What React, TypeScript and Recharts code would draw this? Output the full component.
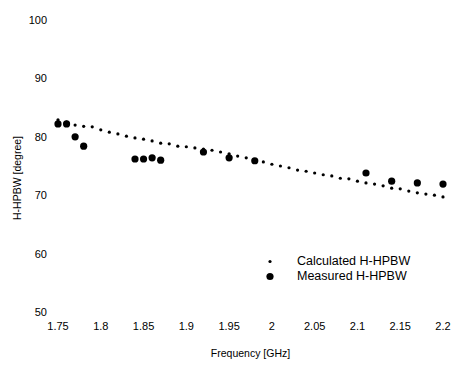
import React from "react";
import {ScatterChart, Scatter, XAxis, YAxis, Legend} from "recharts";

// calculated H-HPBW, one value every 0.01 GHz
const calcFreq = [
  1.75, 1.76, 1.77, 1.78, 1.79, 1.8, 1.81, 1.82, 1.83, 1.84, 1.85, 1.86, 1.87, 1.88, 1.89, 1.9,
  1.91, 1.92, 1.93, 1.94, 1.95, 1.96, 1.97, 1.98, 1.99, 2.0, 2.01, 2.02, 2.03, 2.04, 2.05, 2.06,
  2.07, 2.08, 2.09, 2.1, 2.11, 2.12, 2.13, 2.14, 2.15, 2.16, 2.17, 2.18, 2.19, 2.2,
];
const calcHpbw = [
  82.9, 82.5, 82.0, 81.8, 81.7, 81.2, 80.8, 80.5, 80.1, 79.8, 79.6, 79.3, 78.9, 78.8, 78.4, 78.3,
  78.1, 77.9, 77.7, 77.4, 77.1, 76.7, 76.4, 76.0, 75.7, 75.3, 75.0, 74.7, 74.3, 74.1, 73.8, 73.5,
  73.3, 72.9, 72.8, 72.4, 72.1, 71.9, 71.6, 71.2, 71.1, 70.7, 70.4, 70.2, 70.0, 69.7,
];

const measFreq = [1.75, 1.76, 1.77, 1.78, 1.84, 1.85, 1.86, 1.87, 1.92, 1.95, 1.98, 2.11, 2.14, 2.17, 2.2];
const measHpbw = [82.2, 82.2, 80.0, 78.4, 76.2, 76.2, 76.4, 76.0, 77.4, 76.4, 75.9, 73.8, 72.4, 72.1, 71.9];

const xTicks = [1.75, 1.8, 1.85, 1.9, 1.95, 2, 2.05, 2.1, 2.15, 2.2];
const yTicks = [50, 60, 70, 80, 90, 100];

const calcData = calcFreq.map((f, i) => ({f, v: calcHpbw[i]}));
const measData = measFreq.map((f, i) => ({f, v: measHpbw[i]}));

const font = "Arial, 'Liberation Sans', sans-serif";

const SmallDot = (p: any) => <circle cx={p.cx} cy={p.cy} r={1.6} fill="#000" />;
const BigDot = (p: any) => <circle cx={p.cx} cy={p.cy} r={3.6} fill="#000" />;

const LegendBox = () => (
  <div style={{fontFamily: font, fontSize: 12.5, color: "#000", lineHeight: "15px"}}>
    <div style={{display: "flex", alignItems: "center"}}>
      <svg width={14} height={15}><circle cx={7} cy={7.5} r={1.6} fill="#000" /></svg>
      <span style={{marginLeft: 20}}>Calculated H-HPBW</span>
    </div>
    <div style={{display: "flex", alignItems: "center"}}>
      <svg width={14} height={15}><circle cx={7} cy={7.5} r={3.6} fill="#000" /></svg>
      <span style={{marginLeft: 20}}>Measured H-HPBW</span>
    </div>
  </div>
);

export default function App() {
  return (
    <div style={{position: "fixed", left: 0, top: 0, background: "#fff"}}>
      <ScatterChart width={455} height={365} margin={{top: 20, right: 12, left: 18, bottom: 8}}>
        <XAxis
          type="number"
          dataKey="f"
          domain={[1.75, 2.2]}
          ticks={xTicks}
          axisLine={false}
          tickLine={false}
          tickSize={0}
          tickMargin={10}
          height={45}
          tick={{fill: "#000", fontSize: 11, fontFamily: font}}
          label={{value: "Frequency  [GHz]", position: "insideBottom", offset: 0, fill: "#000", fontSize: 10.5, fontFamily: font}}
        />
        <YAxis
          type="number"
          dataKey="v"
          domain={[50, 100]}
          ticks={yTicks}
          axisLine={false}
          tickLine={false}
          tickSize={0}
          tickMargin={11}
          width={40}
          tick={{fill: "#000", fontSize: 11, fontFamily: font}}
          label={{
            content: (props: any) => {
              const vb = props.viewBox;
              const x = vb.x - 1;
              const y = vb.y + vb.height / 2 + 12;
              return (
                <text x={x} y={y} transform={`rotate(-90 ${x} ${y})`} textAnchor="middle" dominantBaseline="central"
                  fill="#000" fontSize={10.5} fontFamily={font}>
                  H-HPBW [degree]
                </text>
              );
            },
          }}
        />
        <Legend
          layout="horizontal"
          verticalAlign="middle"
          align="center"
          content={<LegendBox />}
          wrapperStyle={{position: "absolute", left: 263, top: 254, width: "auto"}}
        />
        <Scatter name="Calculated H-HPBW" data={calcData} shape={SmallDot} isAnimationActive={false} />
        <Scatter name="Measured H-HPBW" data={measData} shape={BigDot} isAnimationActive={false} />
      </ScatterChart>
    </div>
  );
}
